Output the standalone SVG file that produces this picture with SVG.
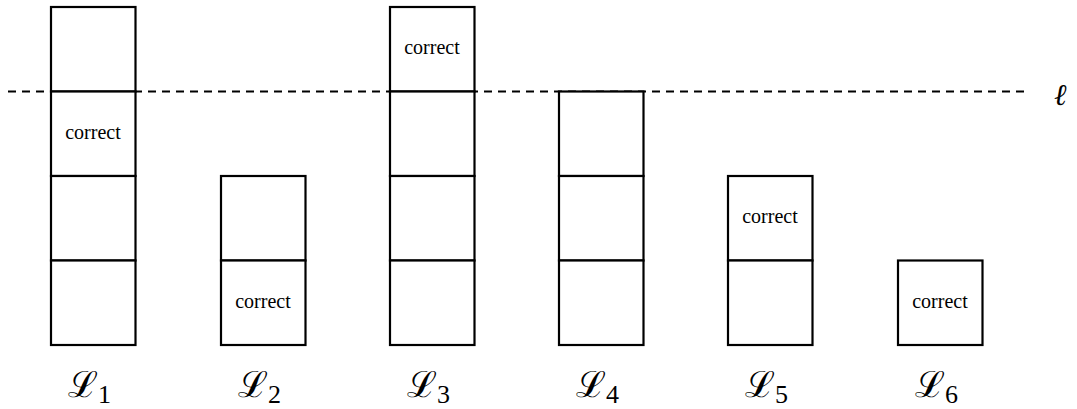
<svg xmlns="http://www.w3.org/2000/svg" width="1077" height="409" viewBox="0 0 1077 409">
<style>
.b{fill:#fff;stroke:#000;stroke-width:2.2}
.c{font-family:"Liberation Serif",serif;font-size:20px;text-anchor:middle;fill:#000}
.l{font-family:"DejaVu Serif",serif;font-size:36px;fill:#000}
.s{font-family:"Liberation Serif",serif;font-size:26px}
</style>
<g id="line"><line x1="8" y1="91.5" x2="1026" y2="91.5" stroke="#000" stroke-width="2" stroke-dasharray="8,6"/>
<text x="1054" y="105" style="font-family:'DejaVu Serif',serif;font-size:30px;font-style:italic">ℓ</text></g>
<g id="L1">
<rect class="b" x="51" y="7" width="84.5" height="84.5"/>
<rect class="b" x="51" y="91.5" width="84.5" height="84.5"/>
<rect class="b" x="51" y="176" width="84.5" height="84.5"/>
<rect class="b" x="51" y="260.5" width="84.5" height="84.5"/>
<text class="c" x="93" y="139">correct</text>
<text class="l" x="68" y="397">ℒ<tspan class="s" dy="6">1</tspan></text>
</g>
<g id="L2">
<rect class="b" x="221" y="176" width="84.5" height="84.5"/>
<rect class="b" x="221" y="260.5" width="84.5" height="84.5"/>
<text class="c" x="263" y="308">correct</text>
<text class="l" x="238" y="397">ℒ<tspan class="s" dy="6">2</tspan></text>
</g>
<g id="L3">
<rect class="b" x="390" y="7" width="84.5" height="84.5"/>
<rect class="b" x="390" y="91.5" width="84.5" height="84.5"/>
<rect class="b" x="390" y="176" width="84.5" height="84.5"/>
<rect class="b" x="390" y="260.5" width="84.5" height="84.5"/>
<text class="c" x="432" y="54">correct</text>
<text class="l" x="407" y="397">ℒ<tspan class="s" dy="6">3</tspan></text>
</g>
<g id="L4">
<rect class="b" x="559" y="91.5" width="84.5" height="84.5"/>
<rect class="b" x="559" y="176" width="84.5" height="84.5"/>
<rect class="b" x="559" y="260.5" width="84.5" height="84.5"/>
<text class="l" x="576" y="397">ℒ<tspan class="s" dy="6">4</tspan></text>
</g>
<g id="L5">
<rect class="b" x="728" y="176" width="84.5" height="84.5"/>
<rect class="b" x="728" y="260.5" width="84.5" height="84.5"/>
<text class="c" x="770" y="223">correct</text>
<text class="l" x="745" y="397">ℒ<tspan class="s" dy="6">5</tspan></text>
</g>
<g id="L6">
<rect class="b" x="898" y="260.5" width="84.5" height="84.5"/>
<text class="c" x="940" y="308">correct</text>
<text class="l" x="915" y="397">ℒ<tspan class="s" dy="6">6</tspan></text>
</g>
</svg>
